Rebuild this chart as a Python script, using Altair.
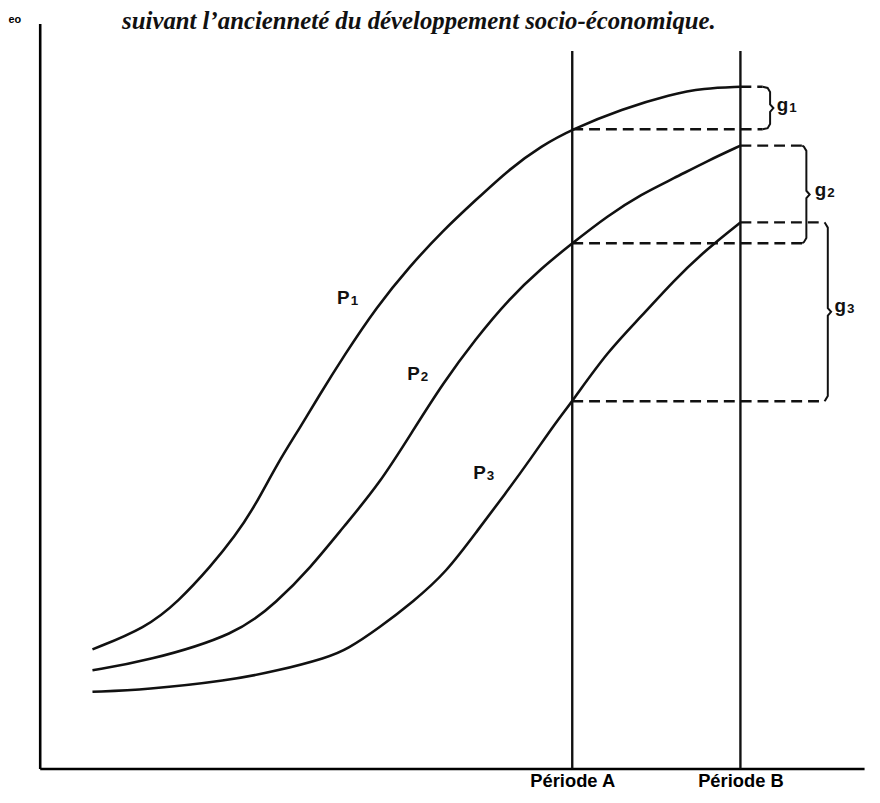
import altair as alt
import pandas as pd

# ---------------- data ----------------
PERIOD_LABELS = ["Période A", "Période B"]
PERIOD_X = [64.6, 85.0]
PERIOD_TOP = [96.3, 96.3]

SERIES = ["P1", "P2", "P3"]
P1_X = [6.4, 12.9, 16.8, 20.8, 23.7, 26.1, 28.8, 31.6, 33.7, 36.9, 40.9, 44.8, 48.9,
        52.9, 56.9, 60.9, 64.6, 70.6, 76.6, 80.5, 85.0]
P1_Y = [16.0, 18.9, 22.4, 27.2, 31.2, 35.2, 40.9, 45.8, 49.7, 55.4, 62.0, 67.3, 72.2,
        76.3, 80.4, 83.6, 85.8, 88.5, 90.5, 91.3, 91.5]
P2_X = [6.4, 12.9, 24.0, 28.8, 32.8, 36.9, 41.2, 45.3, 48.9, 52.9, 56.9, 60.9, 64.6,
        68.9, 73.0, 76.9, 80.9, 85.0]
P2_Y = [13.2, 14.4, 18.0, 22.4, 26.9, 32.5, 38.2, 45.4, 51.7, 57.7, 63.0, 67.2, 70.5,
        74.2, 77.1, 79.2, 81.5, 83.6]
P3_X = [6.4, 12.9, 22.8, 28.8, 34.9, 37.3, 41.2, 45.3, 49.3, 53.2, 56.5, 59.7, 62.5,
        64.6, 68.9, 73.0, 76.9, 80.9, 85.0]
P3_Y = [10.3, 10.6, 11.8, 13.1, 14.9, 16.0, 18.9, 22.4, 26.3, 32.1, 36.9, 41.8, 46.3,
        49.3, 56.0, 60.7, 65.5, 69.7, 73.3]

GAP_NAMES = ["g1", "g2", "g3"]
GAP_TOP = [91.5, 83.6, 73.3]      # level reached at période B
GAP_BOTTOM = [85.8, 70.5, 49.3]   # level reached at période A
GAP_DASH_END = [87.7, 92.5, 95.2]
GAP_BRACE_X = [88.6, 93.0, 95.6]

LABEL_MAIN = ["P", "P", "P", "g", "g", "g"]
LABEL_SUB = ["1", "2", "3", "1", "2", "3"]
LABEL_X = [37.6, 46.1, 54.1, 90.8, 95.4, 97.8]
LABEL_Y = [62.4, 52.1, 38.8, 88.3, 76.9, 61.3]

TITLE = "suivant l\u2019ancienneté du développement socio-économique."
TITLE_X = [46.0]
TITLE_Y = [99.2]
Y_TITLE = "eo"

# ---------------- tables ----------------
curve_rows = []
for name, xs, ys in zip(SERIES, [P1_X, P2_X, P3_X], [P1_Y, P2_Y, P3_Y]):
    for i, (x, y) in enumerate(zip(xs, ys)):
        curve_rows.append({"serie": name, "i": i, "x": x, "y": y})
curves = pd.DataFrame(curve_rows)

periods = pd.DataFrame({"label": PERIOD_LABELS, "x": PERIOD_X, "top": PERIOD_TOP})

dash_rows = []
for n, t, b, e in zip(GAP_NAMES, GAP_TOP, GAP_BOTTOM, GAP_DASH_END):
    dash_rows.append({"gap": n, "x": PERIOD_X[1], "x2": e, "y": t})
    dash_rows.append({"gap": n, "x": PERIOD_X[0], "x2": e, "y": b})
dashes = pd.DataFrame(dash_rows)

brace_rows = []
for n, t, b, e, xb in zip(GAP_NAMES, GAP_TOP, GAP_BOTTOM, GAP_DASH_END, GAP_BRACE_X):
    m = (t + b) / 2
    pts = [(e, t), (xb - 0.3, t - 0.15), (xb, t - 0.7), (xb, m + 0.5), (xb + 0.4, m),
           (xb, m - 0.5), (xb, b + 0.7), (xb - 0.3, b + 0.15), (e, b)]
    for i, (px, py) in enumerate(pts):
        brace_rows.append({"gap": n, "i": i, "x": px, "y": py})
braces = pd.DataFrame(brace_rows)

labels = pd.DataFrame({"main": LABEL_MAIN, "sub": LABEL_SUB, "x": LABEL_X, "y": LABEL_Y})
title_df = pd.DataFrame({"t": [TITLE], "x": TITLE_X, "y": TITLE_Y})

# ---------------- encodings ----------------
XS = alt.Scale(domain=[0, 100], nice=False, zero=False)
YS = alt.Scale(domain=[0, 100], nice=False, zero=False)

label_expr = " : ".join(
    f"datum.value == {v} ? '{l}'" for v, l in zip(PERIOD_X, PERIOD_LABELS)
) + " : ''"

X_AXIS = alt.Axis(values=PERIOD_X, labelExpr=label_expr, title=None, ticks=False,
                  grid=False, domain=True, domainColor="black", domainWidth=2.6,
                  labelFont="Liberation Sans", labelFontWeight="bold", labelFontSize=18.5,
                  labelColor="black", labelPadding=3, labelOverlap=False, labelFlush=False)
Y_AXIS = alt.Axis(values=[], labels=False, ticks=False, grid=False, domain=True,
                  domainColor="black", domainWidth=2.6, title=Y_TITLE, titleAngle=0,
                  titleX=-32, titleY=-1, titleAlign="left", titleBaseline="alphabetic",
                  titleFont="Liberation Sans", titleFontSize=11, titleFontWeight="bold",
                  titleColor="black")


def X(field="x"):
    return alt.X(f"{field}:Q", scale=XS, axis=X_AXIS)


def Y(field="y"):
    return alt.Y(f"{field}:Q", scale=YS, axis=Y_AXIS)


INK = "#111111"

lines = alt.Chart(curves).mark_line(color=INK, strokeWidth=2.6, interpolate="basis").encode(
    x=X(), y=Y(), detail="serie:N", order="i:Q")

vlines = alt.Chart(periods).mark_rule(color=INK, strokeWidth=2.4).encode(
    x=X(), y=alt.Y("top:Q", scale=YS, axis=Y_AXIS), y2=alt.datum(0))

dashed = alt.Chart(dashes).mark_rule(color=INK, strokeWidth=2.4, strokeDash=[11, 6]).encode(
    x=X(), x2="x2:Q", y=Y())

brace = alt.Chart(braces).mark_line(color=INK, strokeWidth=2.0).encode(
    x=X(), y=Y(), detail="gap:N", order="i:Q")

main_txt = alt.Chart(labels).mark_text(
    font="Liberation Sans", fontWeight="bold", fontSize=19, color=INK,
    align="right", baseline="alphabetic").encode(x=X(), y=Y(), text="main:N")

sub_txt = alt.Chart(labels).mark_text(
    font="Liberation Sans", fontWeight="bold", fontSize=13.5, color=INK,
    align="left", baseline="alphabetic", dx=1, dy=1).encode(x=X(), y=Y(), text="sub:N")

title_txt = alt.Chart(title_df).mark_text(
    font="Liberation Serif", fontStyle="italic", fontWeight="bold", fontSize=25,
    color=INK, align="center", baseline="alphabetic").encode(x=X(), y=Y(), text="t:N")

chart = alt.layer(lines, vlines, dashed, brace, main_txt, sub_txt, title_txt).properties(
    width=832, height=752,
    autosize=alt.AutoSizeParams(type="none"),
    padding={"left": 32, "top": 12, "right": 8, "bottom": 18},
    background="white",
).configure_view(stroke=None)

chart.save("out.html", embed_options={"renderer": "svg", "actions": False})
